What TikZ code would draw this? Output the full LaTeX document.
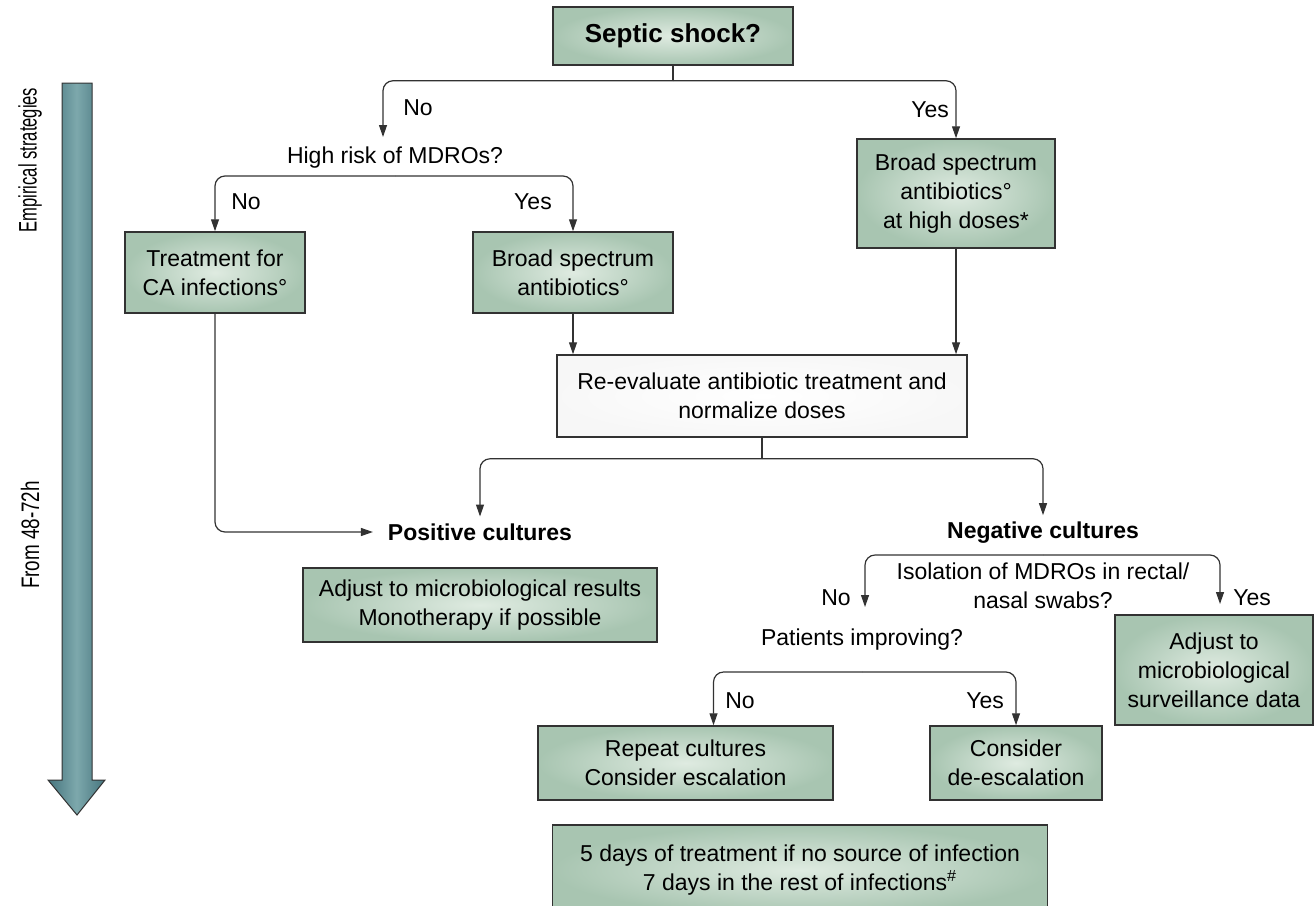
\documentclass[tikz,border=0pt]{standalone}
\usepackage{fontspec}
\setmainfont{Liberation Sans}
\usetikzlibrary{arrows.meta}

\definecolor{boxin}{RGB}{223,235,225}
\definecolor{boxout}{RGB}{168,197,177}
\definecolor{edge}{RGB}{50,50,50}
\definecolor{teallight}{RGB}{125,168,172}
\definecolor{tealdark}{RGB}{70,117,126}

\tikzset{
  box/.style={draw=edge, line width=0.75pt, inner color=boxin, outer color=boxout,
    align=center, font=\fontsize{11.5}{14.5}\selectfont},
  lbl/.style={align=center, font=\fontsize{11.5}{14.5}\selectfont},
  conn/.style={draw=edge, line width=0.6pt, rounded corners=5pt},
  arr/.style={conn, -{Triangle[length=6pt,width=4pt]}},
}

\begin{document}
\begin{tikzpicture}[x=0.5pt, y=-0.5pt]
  \useasboundingbox (0,0) rectangle (1315,905);

  %%%%% time arrow %%%%%
  \draw[draw=edge, line width=0.5pt, left color=tealdark, right color=tealdark, middle color=teallight]
    (62,83) -- (92,83) -- (92,780) -- (105,780) -- (77,815) -- (48,780) -- (62,780) -- cycle;
  \node[lbl, rotate=90] (empir) at (30,160) {\scalebox{0.72}[1.1]{Empirical strategies}};
  \node[lbl, rotate=90] (later) at (30,535) {\scalebox{0.82}[1.1]{From 48-72h}};

  %%%%% boxes %%%%%
  \node[box, minimum width=120pt, minimum height=29pt, font=\fontsize{13}{15}\bfseries] (septic) at (673,36) {Septic shock?};
  \node[box, minimum width=90pt, minimum height=40.5pt] (treat) at (215,272.5) {Treatment for\\CA infections°};
  \node[box, minimum width=100pt, minimum height=40.5pt] (broad) at (573,272.5) {Broad spectrum\\antibiotics°};
  \node[box, minimum width=99pt, minimum height=54.5pt] (hidose) at (956,193.5) {Broad spectrum\\antibiotics°\\at high doses*};
  \node[box, fill=white, inner color=white, outer color=white!97!black, minimum width=205pt, minimum height=41pt] (reeval) at (762,396) {Re-evaluate antibiotic treatment and\\normalize doses};
  \node[box, minimum width=177pt, minimum height=37pt] (adjres) at (480,605) {Adjust to microbiological results\\Monotherapy if possible};
  \node[box, minimum width=99pt, minimum height=55pt] (surv) at (1214,670) {Adjust to\\microbiological\\surveillance data};
  \node[box, minimum width=147.5pt, minimum height=37pt] (repeat) at (685.5,763) {Repeat cultures\\Consider escalation};
  \node[box, minimum width=86pt, minimum height=37pt] (deesc) at (1016,763) {Consider\\de-escalation};
  \node[box, minimum width=247.5pt, minimum height=45pt] (fivedays) at (800,870) {5 days of treatment if no source of infection\\7 days in the rest of infections\textsuperscript{\#}};

  %%%%% questions and labels %%%%%
  \node[lbl] (hirisk) at (395,158) {High risk of MDROs?};
  \node[lbl, font=\fontsize{11.5}{14.5}\bfseries] (pos) at (480,532) {Positive cultures};
  \node[lbl, font=\fontsize{11.5}{14.5}\bfseries] (neg) at (1043,533) {Negative cultures};
  \node[lbl] (isol) at (1043,586) {Isolation of MDROs in rectal/\\nasal swabs?};
  \node[lbl] (impr) at (862,640) {Patients improving?};

  \node[lbl] (no1) at (418,108) {No};
  \node[lbl] (yes1) at (930,110) {Yes};
  \node[lbl] (no2) at (246,202) {No};
  \node[lbl] (yes2) at (533,202) {Yes};
  \node[lbl] (no3) at (836,598) {No};
  \node[lbl] (yes3) at (1252,598) {Yes};
  \node[lbl] (no4) at (740,701) {No};
  \node[lbl] (yes4) at (985,701) {Yes};

  %%%%% connectors %%%%%
  \coordinate (noarr) at (383,137);
  \coordinate (hj) at (395,176);
  \coordinate (nj) at (1043,555);
  \coordinate (ntip) at (865,607);
  \coordinate (ytip) at (1220,604);
  \coordinate (pj) at (862,672);

  \draw[conn] (septic.south) -- ++(0,15) coordinate (sj);
  \draw[arr] (sj) -| (noarr);
  \draw[arr] (sj) -| (hidose.north);

  \draw[arr] (hj) -| (treat.north);
  \draw[arr] (hj) -| (broad.north);

  \draw[arr] (broad.south) -- (broad.south |- reeval.north);
  \draw[arr] (hidose.south) -- (hidose.south |- reeval.north);

  \draw[conn] (reeval.south) -- ++(0,21) coordinate (rj);
  \draw[arr] (rj) -| (pos.north);
  \draw[arr] (rj) -| (neg.north);

  \draw[arr, shorten >=4pt] (treat.south) |- (pos.west);

  \draw[arr] (nj) -| (ntip);
  \draw[arr] (nj) -| (ytip);

  \draw[arr] (pj) -| ([xshift=14pt]repeat.north);
  \draw[arr] (pj) -| (deesc.north);
\end{tikzpicture}
\end{document}
